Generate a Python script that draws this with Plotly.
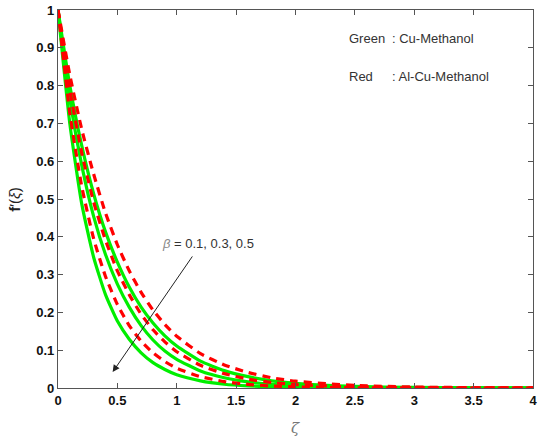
import plotly.graph_objects as go

# similarity variable
zeta = [0, 0.1, 0.2, 0.3, 0.4, 0.5, 0.6, 0.7, 0.8, 0.9, 1.0, 1.2, 1.4, 1.6, 1.8, 2.0, 2.5, 3.0, 3.5, 4.0]

# Cu-Methanol (green), beta = 0.5, 0.3, 0.1
green_b05 = [1, 0.698, 0.487, 0.346, 0.247, 0.177, 0.129, 0.093, 0.067, 0.049, 0.035, 0.019, 0.010, 0.0055, 0.003, 0.0016, 0.0004, 0.0001, 0, 0]
green_b03 = [1, 0.763, 0.589, 0.454, 0.353, 0.275, 0.214, 0.165, 0.127, 0.098, 0.076, 0.045, 0.027, 0.016, 0.0094, 0.0055, 0.0015, 0.0004, 0.0001, 0]
green_b01 = [1, 0.799, 0.641, 0.514, 0.413, 0.333, 0.267, 0.214, 0.172, 0.138, 0.111, 0.071, 0.046, 0.030, 0.019, 0.0123, 0.0041, 0.0014, 0.0005, 0.0002]

# Al-Cu-Methanol (red), beta = 0.5, 0.3, 0.1
red_b05 = [1, 0.726, 0.533, 0.395, 0.295, 0.221, 0.165, 0.124, 0.093, 0.070, 0.052, 0.030, 0.017, 0.0095, 0.0053, 0.003, 0.0007, 0.0002, 0, 0]
red_b03 = [1, 0.787, 0.622, 0.492, 0.391, 0.310, 0.247, 0.195, 0.154, 0.122, 0.096, 0.060, 0.038, 0.0235, 0.0147, 0.0091, 0.0028, 0.0009, 0.0003, 0.0001]
red_b01 = [1, 0.827, 0.684, 0.566, 0.463, 0.379, 0.310, 0.253, 0.206, 0.168, 0.137, 0.091, 0.061, 0.041, 0.027, 0.018, 0.0067, 0.0025, 0.0009, 0.0003]

x_ticks = [0, 0.5, 1, 1.5, 2, 2.5, 3, 3.5, 4]
x_tick_text = ["0", "0.5", "1", "1.5", "2", "2.5", "3", "3.5", "4"]
y_ticks = [0, 0.1, 0.2, 0.3, 0.4, 0.5, 0.6, 0.7, 0.8, 0.9, 1]
y_tick_text = ["0", "0.1", "0.2", "0.3", "0.4", "0.5", "0.6", "0.7", "0.8", "0.9", "1"]

fig = go.Figure()

for ys in (green_b05, green_b03, green_b01):
    fig.add_trace(go.Scatter(x=zeta, y=ys, mode="lines",
                             line=dict(color="#00ee00", width=3.2, shape="spline", smoothing=0.5),
                             showlegend=False, hoverinfo="skip"))

for ys in (red_b05, red_b03, red_b01):
    fig.add_trace(go.Scatter(x=zeta, y=ys, mode="lines",
                             line=dict(color="#ff0000", width=3.2, dash="8px,6px", shape="spline", smoothing=0.5),
                             showlegend=False, hoverinfo="skip"))

tick_font = dict(family="Liberation Sans, Arial", size=13, color="#111")

fig.update_xaxes(range=[0, 4], tickvals=x_ticks, ticktext=["<b>%s</b>" % t for t in x_tick_text],
                 ticks="inside", ticklen=5, tickcolor="#555", mirror="ticks",
                 showline=True, linecolor="#555", linewidth=1.2, showgrid=False,
                 zeroline=False, tickfont=tick_font, ticklabeloverflow="allow")
fig.update_yaxes(range=[0, 1], tickvals=y_ticks, ticktext=["<b>%s</b>" % t for t in y_tick_text],
                 ticks="inside", ticklen=5, tickcolor="#555", mirror="ticks",
                 showline=True, linecolor="#555", linewidth=1.2, showgrid=False,
                 zeroline=False, tickfont=tick_font)

label_font = dict(family="Liberation Sans, Arial", size=13, color="#333")

fig.add_annotation(text="<i>ζ</i>", xref="paper", yref="paper", x=0.5, y=-0.105,
                   showarrow=False, font=dict(family="DejaVu Serif", size=15, color="#777"),
                   xanchor="center", yanchor="middle")
fig.add_annotation(text="<b>f</b>′(<i>ξ</i>)", xref="paper", yref="paper", x=-0.093, y=0.5,
                   textangle=-90, showarrow=False,
                   font=dict(family="Liberation Sans, Arial", size=15, color="#222"),
                   xanchor="center", yanchor="middle")

# material key
for row, (name, fluid) in enumerate([("Green", ": Cu-Methanol"), ("Red", ": Al-Cu-Methanol")]):
    yp = 0.925 - row * 0.1
    fig.add_annotation(text=name, xref="paper", yref="paper", x=0.609, y=yp,
                       showarrow=False, xanchor="left", yanchor="middle", font=label_font)
    fig.add_annotation(text=fluid, xref="paper", yref="paper", x=0.699, y=yp,
                       showarrow=False, xanchor="left", yanchor="middle", font=label_font)

# beta trend arrow
fig.add_annotation(x=0.46, y=0.042, ax=1.14, ay=0.352, xref="x", yref="y",
                   axref="x", ayref="y", text="", showarrow=True,
                   arrowhead=2, arrowsize=1.4, arrowwidth=1, arrowcolor="#222")
fig.add_annotation(text="<span style='color:#888'><i>β</i></span> = 0.1, 0.3, 0.5",
                   x=0.86, y=0.383, xref="x", yref="y", showarrow=False,
                   xanchor="left", yanchor="middle", font=label_font)

fig.update_layout(width=539, height=440, margin=dict(l=58, r=2, t=10, b=52),
                  plot_bgcolor="white", paper_bgcolor="white")

fig.write_html("out.html")
